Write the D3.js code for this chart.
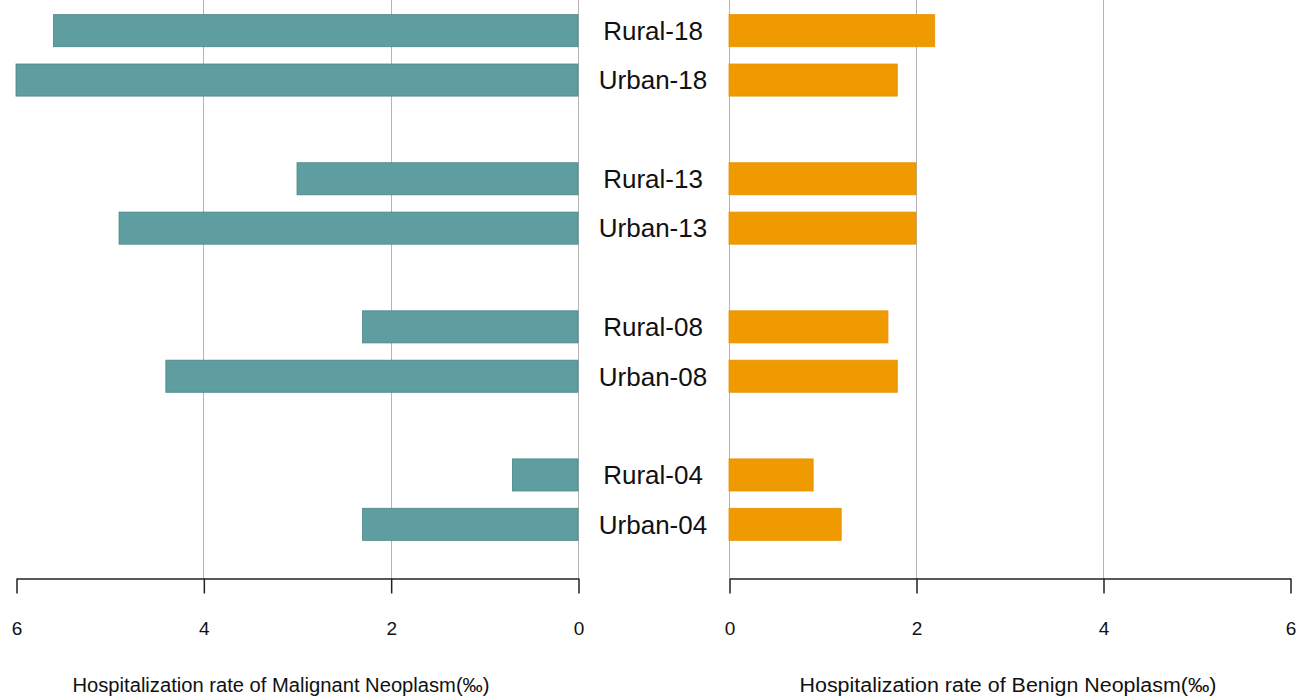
<!DOCTYPE html>
<html lang="en">
<head>
    <meta charset="UTF-8">
    <title>Hospitalization rate of neoplasm</title>
    <style>
      body { margin: 0; background: #fff; }
      text { font-family: Arial, "Liberation Sans", sans-serif; fill: #111; }
    </style>
</head>
<body>
  <div id="graph-container"></div>
  <script src="https://d3js.org/d3.v7.min.js"></script>
  <script>
    // rows from top to bottom, "" marks the blank gap between year groups
    const rowLabels = ["Rural-18", "Urban-18", "", "Rural-13", "Urban-13", "", "Rural-08", "Urban-08", "", "Rural-04", "Urban-04"];
    const categories = ["Rural-18", "Urban-18", "Rural-13", "Urban-13", "Rural-08", "Urban-08", "Rural-04", "Urban-04"];
    const malignant = [5.6, 6.0, 3.0, 4.9, 2.3, 4.4, 0.7, 2.3];
    const benign = [2.2, 1.8, 2.0, 2.0, 1.7, 1.8, 0.9, 1.2];
    const tickValues = [0, 2, 4, 6];
    const gridValues = [0, 2, 4];

    const width = 1308, height = 698;
    const axisY = 578;

    const svg = d3.select("#graph-container")
      .append("svg")
        .attr("width", width)
        .attr("height", height);

    // slot keys so the blank rows get their own band
    const slots = rowLabels.map((d, i) => d || "gap" + i);
    const yScale = d3.scaleBand()
      .domain(slots)
      .range([6, 549])
      .paddingInner(0.35)
      .paddingOuter(0.175);

    const xLeft = d3.scaleLinear().domain([0, 6]).range([578, 16]);
    const xRight = d3.scaleLinear().domain([0, 6]).range([729, 1290]);

    function drawPanel(xScale, values, fill, stroke, title, titleX) {
      const g = svg.append("g");

      // vertical grid lines
      g.selectAll(".grid")
        .data(gridValues)
        .enter()
        .append("line")
        .attr("x1", d => Math.round(xScale(d)) + 0.5)
        .attr("x2", d => Math.round(xScale(d)) + 0.5)
        .attr("y1", 0)
        .attr("y2", axisY)
        .attr("stroke", "#b4b4b4")
        .attr("stroke-width", 1);

      g.selectAll(".bar")
        .data(values)
        .enter()
        .append("rect")
        .attr("x", d => Math.min(xScale(0), xScale(d)))
        .attr("y", (d, i) => yScale(categories[i]))
        .attr("width", d => Math.abs(xScale(d) - xScale(0)))
        .attr("height", yScale.bandwidth())
        .attr("fill", fill)
        .attr("stroke", stroke)
        .attr("stroke-width", 0.8);

      // axis along the bottom
      const axis = g.append("g")
        .attr("transform", `translate(0.5, ${axisY + 0.5})`)
        .call(d3.axisBottom(xScale).tickValues(tickValues).tickFormat(d3.format("d"))
          .tickSize(15).tickPadding(28).tickSizeOuter(0));
      axis.select(".domain").attr("stroke", "#222").attr("stroke-width", 1.5);
      axis.selectAll(".tick line").attr("stroke", "#222").attr("stroke-width", 1.5);
      axis.selectAll(".tick text")
        .style("font-family", "Arial, 'Liberation Sans', sans-serif")
        .style("font-size", "19px")
        .attr("fill", "#111");

      g.append("text")
        .attr("x", titleX)
        .attr("y", 692)
        .attr("text-anchor", "middle")
        .attr("font-size", 20)
        .attr("textLength", 417)
        .attr("lengthAdjust", "spacingAndGlyphs")
        .text(title);
    }

    drawPanel(xLeft, malignant, "#5f9ea0", "#4a8587", "Hospitalization rate of Malignant Neoplasm(\u2030)", 281);
    drawPanel(xRight, benign, "#ef9a00", "#e59300", "Hospitalization rate of Benign Neoplasm(\u2030)", 1008);

    // category labels in the middle
    svg.selectAll(".cat")
      .data(categories)
      .enter()
      .append("text")
      .attr("x", 653)
      .attr("y", d => yScale(d) + yScale.bandwidth() / 2)
      .attr("dy", "0.36em")
      .attr("text-anchor", "middle")
      .attr("font-size", 26)
      .text(d => d);
  </script>
</body>
</html>
